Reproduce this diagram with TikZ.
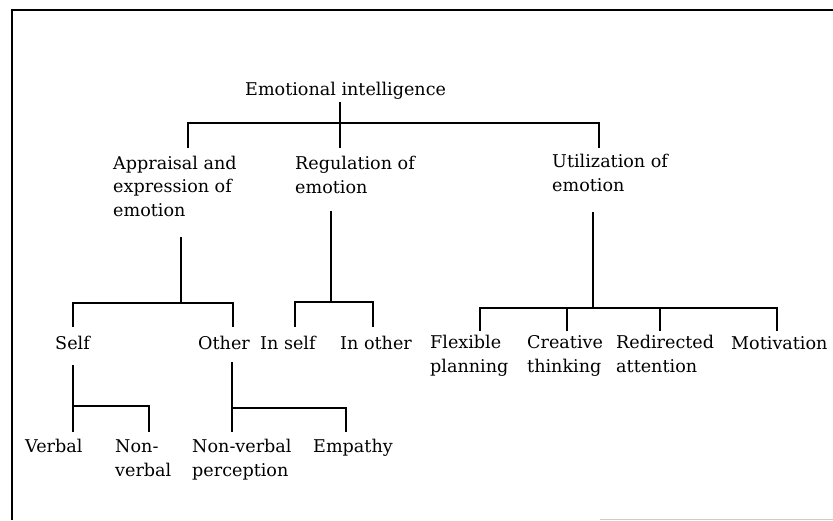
\documentclass[tikz,border=0pt]{standalone}
\usepackage{fontspec}
\setmainfont{DejaVu Serif}
\usetikzlibrary{positioning}

\begin{document}
\begin{tikzpicture}[x=0.03cm, y=-0.03cm,
  font=\fontsize{15}{20}\selectfont,
  lbl/.style={anchor=base west, align=left, inner sep=0pt},
  link/.style={line width=1.3pt},
  frame/.style={line width=1.4pt}]
\useasboundingbox (0,0) rectangle (833,520);
\draw[frame] (12,520) -- (12,10) -- (833,10);
\draw[gray!40, line width=0.8pt] (600,519) -- (833,519);
% labels (base = last line)
\node[lbl] (ei) at (245,95) {Emotional intelligence};
\node[lbl] (app) at (113,216) {Appraisal and\\expression of\\emotion};
\node[lbl] (reg) at (295,193) {Regulation of\\emotion};
\node[lbl] (util) at (552,191) {Utilization of\\emotion};
\node[lbl] (self) at (55,349) {Self};
\node[lbl] (other) at (198,349) {Other};
\node[lbl] (inself) at (260,349) {In self};
\node[lbl] (inother) at (340,349) {In other};
\node[lbl] (flex) at (430,372) {Flexible\\planning};
\node[lbl] (crea) at (527,372) {Creative\\thinking};
\node[lbl] (redir) at (616,372) {Redirected\\attention};
\node[lbl] (motiv) at (731,349) {Motivation};
\node[lbl] (verbal) at (25,452) {Verbal};
\node[lbl] (nonverb) at (115,476) {Non-\\verbal};
\node[lbl] (nvperc) at (192,476) {Non-verbal\\perception};
\node[lbl] (empathy) at (313,452) {Empathy};
% connector ends
\coordinate (ei-s) at (340,102);
\coordinate (app-n) at (188,148);
\coordinate (reg-n) at (340,148);
\coordinate (util-n) at (599,148);
\coordinate (app-s) at (181,237);
\coordinate (reg-s) at (331,211);
\coordinate (util-s) at (593,212);
\coordinate (self-n) at (73,327);
\coordinate (other-n) at (233,327);
\coordinate (inself-n) at (295,327);
\coordinate (inother-n) at (373,327);
\coordinate (flex-n) at (480,331);
\coordinate (crea-n) at (567,331);
\coordinate (redir-n) at (660,331);
\coordinate (motiv-n) at (777,331);
\coordinate (self-s) at (73,365);
\coordinate (other-s) at (232,362);
\coordinate (verbal-n) at (73,432);
\coordinate (nonverb-n) at (149,432);
\coordinate (nvperc-n) at (232,432);
\coordinate (empathy-n) at (346,432);
% tree
\draw[link] (ei-s) -- (reg-n);
\draw[link] (app-n) -- ++(0,-25) -| (util-n);
\draw[link] (app-s) -- ++(0,66);
\draw[link] (self-n) -- ++(0,-24) -| (other-n);
\draw[link] (reg-s) -- ++(0,91);
\draw[link] (inself-n) -- ++(0,-25) -| (inother-n);
\draw[link] (util-s) -- ++(0,96);
\draw[link] (flex-n) -- ++(0,-23) -| (motiv-n);
\draw[link] (crea-n) -- ++(0,-23);
\draw[link] (redir-n) -- ++(0,-23);
\draw[link] (self-s) -- (verbal-n);
\draw[link] (verbal-n) ++(0,-26) -| (nonverb-n);
\draw[link] (other-s) -- (nvperc-n);
\draw[link] (nvperc-n) ++(0,-24) -| (empathy-n);
\end{tikzpicture}
\end{document}
